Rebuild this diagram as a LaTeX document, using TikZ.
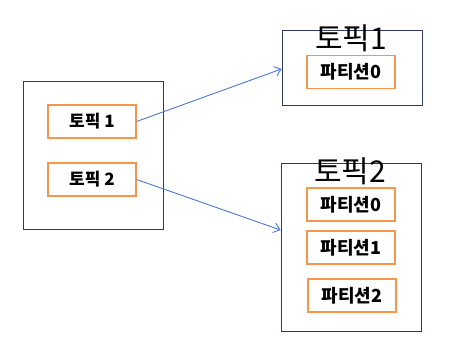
\documentclass[tikz,border=0pt]{standalone}
\usepackage{fontspec}
\setmainfont{Noto Sans CJK KR}
\usetikzlibrary{arrows.meta}
\definecolor{navy}{HTML}{2F3A5E}
\definecolor{orng}{HTML}{F7964A}
\definecolor{arrowblue}{HTML}{4A78D8}
\tikzset{
  group/.style={draw=navy, line width=1pt},
  part/.style={draw=orng, line width=1.2pt, minimum width=88pt, minimum height=33pt, inner sep=0pt},
  toplabel/.style={font=\fontsize{17}{19}\selectfont\bfseries},
  partlabel/.style={font=\fontsize{18}{20}\selectfont\bfseries},
  title/.style={font=\fontsize{30}{32}\selectfont, inner sep=0pt},
  link/.style={draw=arrowblue, line width=0.9pt, -{Straight Barb[length=6pt,width=10pt]}}
}
\begin{document}
\begin{tikzpicture}[x=1pt,y=-1pt]
\useasboundingbox (0,0) rectangle (454,361);
% left box
\draw[group] (23,81) rectangle (163,229);
\node[part, toplabel] (t1) at (92,121.5) {토픽 1};
\node[part, toplabel] (t2) at (92,179.5) {토픽 2};
% right box 1
\node[group, minimum width=140pt, minimum height=74pt, inner sep=0pt] (g1) at (352,68) {};
\node[title] (h1) at (351,38.5) {토픽1};
\node[part, partlabel] (p10) at (351,72) {파티션0};
% right box 2
\node[group, minimum width=140pt, minimum height=168pt, inner sep=0pt] (g2) at (351,247) {};
\node[title] (h2) at (350,171) {토픽2};
\node[part, partlabel] (p20) at (351,204.5) {파티션0};
\node[part, partlabel] (p21) at (351,247.5) {파티션1};
\node[part, partlabel] (p22) at (352,295.5) {파티션2};
% arrows
\draw[link] (t1.east) -- (g1.west |- 0,69);
\draw[link] (t2.east) -- (g2.west |- 0,230);
\end{tikzpicture}
\end{document}
